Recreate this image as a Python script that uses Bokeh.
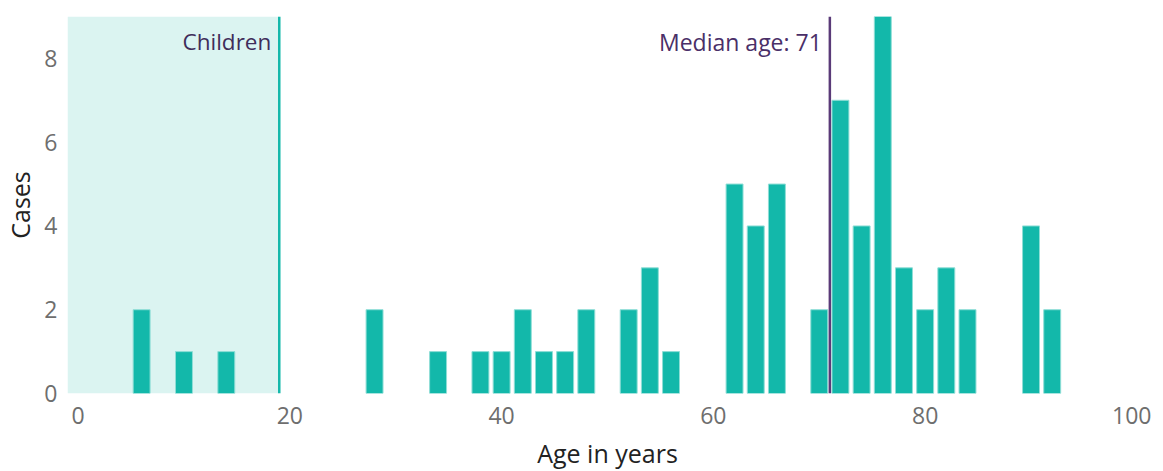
from bokeh.plotting import figure
from bokeh.models import Span, BoxAnnotation, Label, FixedTicker
from bokeh.embed import file_html
from bokeh.resources import INLINE

# Data: bin centers (age in years) and case counts
ages = [6, 10, 14, 28, 34, 38, 40, 42, 44, 46, 48, 52, 54, 56,
        62, 64, 66, 70, 72, 74, 76, 78, 80, 82, 84, 90, 92]
cases = [2, 1, 1, 2, 1, 1, 1, 2, 1, 1, 2, 2, 3, 1,
         5, 4, 5, 2, 7, 4, 9, 3, 2, 3, 2, 4, 2]
children_limit = 19
median_age = 71
x_ticks = [0, 20, 40, 60, 80, 100]
y_ticks = [0, 2, 4, 6, 8]

FONT = "Open Sans"
TEAL = "#13b8aa"
PURPLE = "#5a3a78"

p = figure(frame_width=1080, frame_height=377, x_range=(-1, 101), y_range=(0, 9),
           output_backend="svg", toolbar_location=None,
           min_border_left=61, min_border_right=4, min_border_top=16,
           min_border_bottom=62)

p.add_layout(BoxAnnotation(left=-1, right=children_limit, fill_color="#dbf4f1",
                           fill_alpha=1.0, line_alpha=0, level="underlay"))

p.vbar(x=ages, top=cases, width=1.6, fill_color=TEAL, line_color="#8fded6",
       line_width=1)

p.add_layout(Span(location=children_limit, dimension="height",
                  line_color=TEAL, line_width=2.5))
p.add_layout(Span(location=median_age, dimension="height",
                  line_color=PURPLE, line_width=2.5))

p.add_layout(Label(x=children_limit, y=9, x_offset=-8, y_offset=-25,
                   text="Children", text_align="right", text_baseline="middle",
                   text_font=FONT, text_font_size="22.5px", text_color="#3f2d5a"))
p.add_layout(Label(x=median_age, y=9, x_offset=-8, y_offset=-25,
                   text="Median age: 71", text_align="right", text_baseline="middle",
                   text_font=FONT, text_font_size="23px", text_color="#4a2f68"))

p.xaxis.ticker = FixedTicker(ticks=x_ticks)
p.yaxis.ticker = FixedTicker(ticks=y_ticks)
p.xaxis.axis_label = "Age in years"
p.yaxis.axis_label = "Cases"

for ax in (p.xaxis, p.yaxis):
    ax.axis_line_color = None
    ax.major_tick_line_color = None
    ax.minor_tick_line_color = None
    ax.major_tick_out = 0
    ax.major_tick_in = 0
    ax.minor_tick_out = 0
    ax.minor_tick_in = 0
    ax.major_label_text_font = FONT
    ax.major_label_text_font_size = "23px"
    ax.major_label_text_color = "#6e6e6e"
    ax.axis_label_text_font = FONT
    ax.axis_label_text_font_size = "25px"
    ax.axis_label_text_font_style = "normal"
    ax.axis_label_text_color = "#222222"

p.xaxis.major_label_standoff = 13
p.xaxis.axis_label_standoff = 9
p.yaxis.major_label_standoff = 10
p.yaxis.axis_label_standoff = 4

p.grid.visible = False
p.outline_line_color = None
p.background_fill_color = "white"

open("out.html", "w").write(file_html(p, INLINE))
